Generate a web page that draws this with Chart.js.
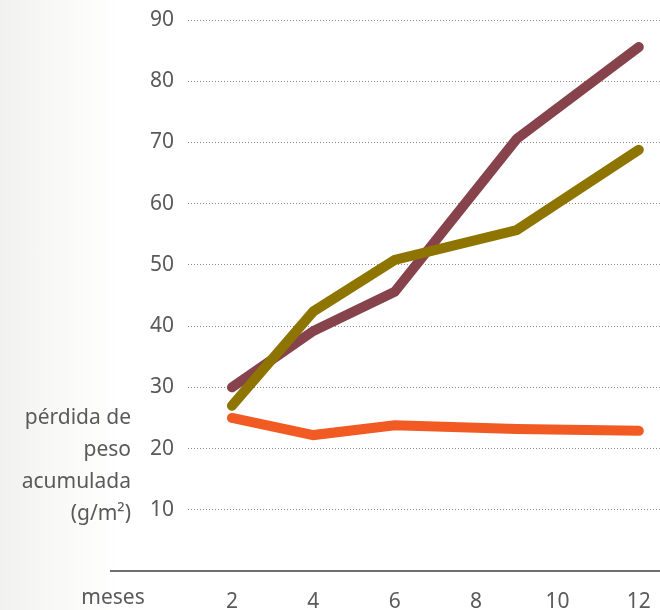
<!DOCTYPE html>
<html>
<head>
<meta charset="utf-8">
<script src="https://cdn.jsdelivr.net/npm/chart.js@4/dist/chart.umd.min.js"></script>
<style>
  html, body { margin: 0; padding: 0; }
  body { width: 660px; height: 610px; background: linear-gradient(90deg, #f1f1ef 0px, #f8f8f6 50px, #ffffff 120px); }
  canvas { display: block; }
</style>
</head>
<body>
<canvas id="c" width="660" height="610"></canvas>
<script>
// months sampled and accumulated weight loss (g/m²) per series
const months = [2, 4, 6, 9, 12];
const seriesMaroon = [30, 39.2, 45.6, 70.6, 85.6];
const seriesOlive = [27, 42.4, 50.8, 55.7, 68.8];
const seriesOrange = [25, 22.2, 23.8, 23.2, 22.9];
const xTicks = [2, 4, 6, 8, 10, 12];
const yTicks = [10, 20, 30, 40, 50, 60, 70, 80, 90];
const yTitle = ['pérdida de', 'peso', 'acumulada', '(g/m²)'];
const xTitle = 'meses';

const FONT = '"Noto Sans", sans-serif';
const TEXT = '#5a5a5a';
const SIZE = 21;

const pts = vals => months.map((m, i) => ({ x: m, y: vals[i] }));

function lineSet(vals, color) {
  return {
    data: pts(vals),
    borderColor: color,
    backgroundColor: color,
    borderWidth: 10,
    borderCapStyle: 'round',
    borderJoinStyle: 'miter',
    pointRadius: 0,
    tension: 0,
    fill: false
  };
}

// baseline at zero plus the two axis titles
const decor = {
  id: 'decor',
  afterDraw(chart) {
    const { ctx, scales } = chart;
    const y0 = scales.y.getPixelForValue(0);
    ctx.save();
    ctx.strokeStyle = '#6f6f6f';
    ctx.lineWidth = 2;
    ctx.beginPath();
    ctx.moveTo(110, y0);
    ctx.lineTo(660, y0);
    ctx.stroke();

    ctx.fillStyle = TEXT;
    ctx.font = SIZE + 'px ' + FONT;
    ctx.textAlign = 'right';
    ctx.textBaseline = 'middle';
    yTitle.forEach((t, i) => ctx.fillText(t, 131, 418 + i * 32));

    ctx.textAlign = 'center';
    ctx.fillText(xTitle, 113, 598);
    ctx.restore();
  }
};

new Chart(document.getElementById('c'), {
  type: 'line',
  data: {
    datasets: [
      lineSet(seriesOlive, '#8e7400'),
      lineSet(seriesMaroon, '#87434b'),
      lineSet(seriesOrange, '#f15a22')
    ]
  },
  options: {
    responsive: false,
    animation: false,
    layout: { padding: { top: 20, right: 0, bottom: 0, left: 0 } },
    plugins: { legend: { display: false }, tooltip: { enabled: false } },
    scales: {
      x: {
        type: 'linear',
        min: 0.92,
        max: 12.52,
        afterBuildTicks: s => { s.ticks = xTicks.map(v => ({ value: v })); },
        afterFit: s => { s.height = 39; s.paddingLeft = 0; s.paddingRight = 0; },
        grid: { display: false },
        border: { display: false },
        ticks: {
          padding: 10,
          color: TEXT,
          font: { family: FONT, size: SIZE },
          maxRotation: 0
        }
      },
      y: {
        min: 0,
        max: 90,
        afterBuildTicks: s => { s.ticks = yTicks.map(v => ({ value: v })); },
        afterFit: s => { s.width = 188; s.paddingTop = 0; s.paddingBottom = 0; },
        border: { display: false, dash: [1, 2] },
        grid: {
          color: '#8a8a8a',
          lineWidth: 1,
          drawTicks: false
        },
        ticks: {
          padding: 14,
          color: TEXT,
          font: { family: FONT, size: SIZE }
        }
      }
    }
  },
  plugins: [decor]
});
</script>
</body>
</html>
